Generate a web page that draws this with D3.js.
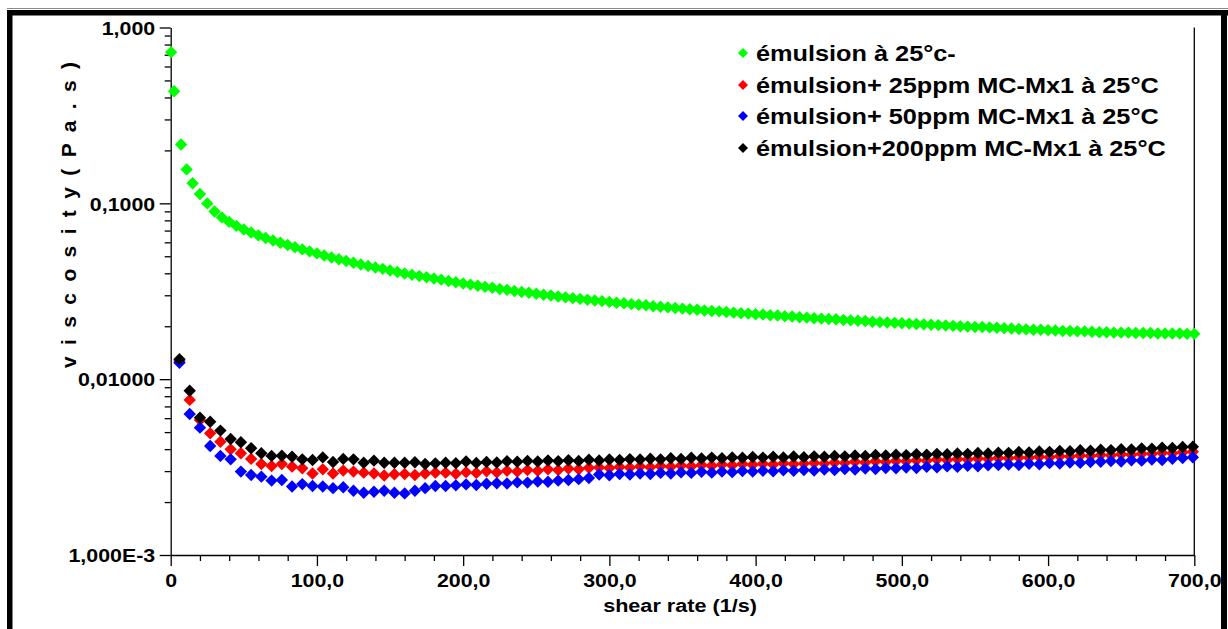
<!DOCTYPE html>
<html>
<head>
<meta charset="utf-8">
<script src="https://cdn.jsdelivr.net/npm/d3@7"></script>
<style>
  html, body { margin: 0; padding: 0; background: #ffffff; }
  svg { display: block; }
  text { font-family: "Liberation Sans", Arial, sans-serif; font-weight: bold; fill: #000; }
</style>
</head>
<body>
<svg id="chart" width="1228" height="629"></svg>
<script>
// ---- data -------------------------------------------------------------
const seriesNames = [
  "émulsion à 25°c-",
  "émulsion+ 25ppm MC-Mx1 à 25°C",
  "émulsion+ 50ppm MC-Mx1 à 25°C",
  "émulsion+200ppm MC-Mx1 à 25°C"
];
const seriesColors = ["#00ff00", "#ff0000", "#0000ff", "#000000"];

// plain emulsion: shear rate (1/s) and viscosity (Pa.s)
const emulsionRate = [0.3, 2.3, 7.1, 10.9, 15, 20, 25, 30, 35, 40, 45,
  50, 55, 60, 65, 70, 75, 80, 85, 90, 95, 100, 105, 110, 115, 120, 125, 130, 135, 140, 145,
  150, 155, 160, 165, 170, 175, 180, 185, 190, 195, 200, 205, 210, 215, 220, 225, 230, 235, 240, 245,
  250, 255, 260, 265, 270, 275, 280, 285, 290, 295, 300, 305, 310, 315, 320, 325, 330, 335, 340, 345,
  350, 355, 360, 365, 370, 375, 380, 385, 390, 395, 400, 405, 410, 415, 420, 425, 430, 435, 440, 445,
  450, 455, 460, 465, 470, 475, 480, 485, 490, 495, 500, 505, 510, 515, 520, 525, 530, 535, 540, 545,
  550, 555, 560, 565, 570, 575, 580, 585, 590, 595, 600, 605, 610, 615, 620, 625, 630, 635, 640, 645,
  650, 655, 660, 665, 670, 675, 680, 685, 690, 695, 700];
const emulsionVisc = [0.724, 0.434, 0.216, 0.156, 0.130, 0.1131, 0.0999, 0.0899, 0.0832, 0.0784, 0.0744,
  0.0710, 0.0682, 0.0657, 0.0635, 0.0615, 0.0597, 0.0580, 0.0563, 0.0547, 0.0533, 0.0519, 0.0505, 0.0492, 0.0481, 0.0470, 0.0459, 0.0449, 0.0440, 0.0432, 0.0424,
  0.0415, 0.0407, 0.0399, 0.0392, 0.0386, 0.0380, 0.0374, 0.0368, 0.0362, 0.0356, 0.0350, 0.0345, 0.0340, 0.0335, 0.0331, 0.0326, 0.0322, 0.0317, 0.0313, 0.0310,
  0.0306, 0.0302, 0.0299, 0.0295, 0.0292, 0.0289, 0.0286, 0.0283, 0.0280, 0.0278, 0.0275, 0.0272, 0.0270, 0.0267, 0.0265, 0.0263, 0.0260, 0.0258, 0.0256, 0.0254,
  0.0252, 0.0250, 0.0248, 0.0246, 0.0244, 0.0243, 0.0241, 0.0239, 0.0237, 0.0236, 0.0234, 0.0233, 0.0231, 0.0230, 0.0228, 0.0227, 0.0225, 0.0224, 0.0222, 0.0221,
  0.0220, 0.0219, 0.0217, 0.0216, 0.0215, 0.0214, 0.0212, 0.0211, 0.0210, 0.0209, 0.0208, 0.0207, 0.0206, 0.0205, 0.0204, 0.0203, 0.0202, 0.0201, 0.0200, 0.0199,
  0.0198, 0.0198, 0.0197, 0.0196, 0.0195, 0.0194, 0.0193, 0.0192, 0.0191, 0.0191, 0.0190, 0.0189, 0.0188, 0.0188, 0.0187, 0.0187, 0.0186, 0.0185, 0.0185, 0.0184,
  0.0184, 0.0184, 0.0183, 0.0183, 0.0183, 0.0182, 0.0182, 0.0182, 0.0182, 0.0181, 0.0181];

// emulsions with MC-Mx1: shared shear-rate grid (1/s)
const mxRate = [6, 13, 20, 27, 34, 41, 48, 55, 62, 69, 76, 83, 90, 97, 104, 111, 118, 125, 132, 139,
  146, 153, 160, 167, 174, 181, 188, 195, 202, 209, 216, 223, 230, 237, 244, 251, 258, 265, 272, 279,
  286, 293, 300, 307, 314, 321, 328, 335, 342, 349, 356, 363, 370, 377, 384, 391, 398, 405, 412, 419,
  426, 433, 440, 447, 454, 461, 468, 475, 482, 489, 496, 503, 510, 517, 524, 531, 538, 545, 552, 559,
  566, 573, 580, 587, 594, 601, 608, 615, 622, 629, 636, 643, 650, 657, 664, 671, 678, 685, 692, 699];

const mx25Visc = [0.0127, 0.00762, 0.00586, 0.00492, 0.00441, 0.00399, 0.00379, 0.00352, 0.00329, 0.00321,
  0.00329, 0.00318, 0.00311, 0.00291, 0.00307, 0.00291, 0.00302, 0.00298, 0.00294, 0.00291,
  0.00283, 0.00288, 0.00289, 0.00285, 0.00291, 0.00294, 0.00294, 0.00290, 0.00296, 0.00293,
  0.00299, 0.00295, 0.00301, 0.00298, 0.00304, 0.00301, 0.00307, 0.00304, 0.00310, 0.00307,
  0.00313, 0.00315, 0.00312, 0.00317, 0.00314, 0.00319, 0.00316, 0.00321, 0.00318, 0.00323,
  0.00320, 0.00325, 0.00322, 0.00327, 0.00324, 0.00329, 0.00326, 0.00330, 0.00327, 0.00332,
  0.00329, 0.00331, 0.00334, 0.00331, 0.00336, 0.00334, 0.00339, 0.00336, 0.00341, 0.00338,
  0.00343, 0.00341, 0.00346, 0.00344, 0.00349, 0.00347, 0.00351, 0.00349, 0.00354, 0.00352,
  0.00356, 0.00355, 0.00359, 0.00357, 0.00362, 0.00360, 0.00365, 0.00363, 0.00368, 0.00366,
  0.00371, 0.00369, 0.00374, 0.00372, 0.00377, 0.00376, 0.00381, 0.00379, 0.00384, 0.00387];

const mx50Visc = [0.0124, 0.00634, 0.00530, 0.00417, 0.00366, 0.00350, 0.00298, 0.00285, 0.00279, 0.00265,
  0.00267, 0.00245, 0.00253, 0.00247, 0.00245, 0.00240, 0.00243, 0.00232, 0.00226, 0.00229,
  0.00232, 0.00226, 0.00224, 0.00232, 0.00240, 0.00247, 0.00247, 0.00249, 0.00252, 0.00250,
  0.00254, 0.00256, 0.00255, 0.00259, 0.00258, 0.00262, 0.00261, 0.00265, 0.00267, 0.00270,
  0.00274, 0.00287, 0.00284, 0.00289, 0.00287, 0.00291, 0.00289, 0.00293, 0.00291, 0.00295,
  0.00293, 0.00297, 0.00294, 0.00298, 0.00296, 0.00300, 0.00298, 0.00301, 0.00299, 0.00303,
  0.00301, 0.00304, 0.00302, 0.00306, 0.00304, 0.00308, 0.00306, 0.00310, 0.00308, 0.00312,
  0.00311, 0.00314, 0.00312, 0.00317, 0.00315, 0.00319, 0.00317, 0.00322, 0.00320, 0.00324,
  0.00325, 0.00327, 0.00325, 0.00330, 0.00328, 0.00333, 0.00331, 0.00336, 0.00334, 0.00338,
  0.00339, 0.00342, 0.00340, 0.00346, 0.00344, 0.00349, 0.00347, 0.00353, 0.00356, 0.00360];

const mx200Visc = [0.0130, 0.00860, 0.00604, 0.00573, 0.00510, 0.00457, 0.00438, 0.00405, 0.00379, 0.00366,
  0.00367, 0.00362, 0.00350, 0.00347, 0.00359, 0.00338, 0.00352, 0.00350, 0.00335, 0.00344,
  0.00335, 0.00335, 0.00335, 0.00337, 0.00329, 0.00332, 0.00335, 0.00333, 0.00340, 0.00334,
  0.00338, 0.00336, 0.00341, 0.00339, 0.00343, 0.00340, 0.00345, 0.00342, 0.00346, 0.00343,
  0.00348, 0.00345, 0.00349, 0.00347, 0.00351, 0.00349, 0.00353, 0.00350, 0.00355, 0.00352,
  0.00357, 0.00354, 0.00358, 0.00355, 0.00359, 0.00357, 0.00361, 0.00358, 0.00362, 0.00359,
  0.00363, 0.00360, 0.00364, 0.00362, 0.00366, 0.00364, 0.00368, 0.00366, 0.00371, 0.00368,
  0.00372, 0.00370, 0.00374, 0.00372, 0.00376, 0.00374, 0.00378, 0.00376, 0.00380, 0.00378,
  0.00382, 0.00381, 0.00385, 0.00383, 0.00388, 0.00386, 0.00391, 0.00389, 0.00394, 0.00392,
  0.00397, 0.00395, 0.00400, 0.00398, 0.00404, 0.00402, 0.00408, 0.00406, 0.00411, 0.00413];

// axis ticks
const xTickValues = [0, 100, 200, 300, 400, 500, 600, 700];
const xTickLabels = ["0", "100,0", "200,0", "300,0", "400,0", "500,0", "600,0", "700,0"];
const yTickValues = [1, 0.1, 0.01, 0.001];
const yTickLabels = ["1,000", "0,1000", "0,01000", "1,000E-3"];
const xTitle = "shear rate (1/s)";
const yTitle = "v i s c o s i t y   ( P a . s )";

// ---- drawing -----------------------------------------------------------
const svg = d3.select("#chart");
const W = 1228, H = 629;
const plot = { left: 170.7, right: 1194.3, top: 27.5, bottom: 555 };
const stretch = "scale(1.15,1)";   // wide bold lettering of the instrument software

const x = d3.scaleLinear().domain([0, 700]).range([plot.left, plot.right]);
const y = d3.scaleLog().domain([0.001, 1]).range([plot.bottom, plot.top]);

// page frame
svg.append("rect").attr("x", 0).attr("y", 0).attr("width", W).attr("height", H).attr("fill", "#fff");
svg.append("line").attr("x1", 7).attr("x2", W).attr("y1", 8.5).attr("y2", 8.5)
  .attr("stroke", "#8a8a8a").attr("stroke-width", 1.2);
svg.append("rect").attr("x", 7).attr("y", 10).attr("width", W - 7).attr("height", 5.5).attr("fill", "#000");
svg.append("rect").attr("x", 7).attr("y", 10).attr("width", 5.5).attr("height", H - 10).attr("fill", "#000");
svg.append("rect").attr("x", 1221).attr("y", 10).attr("width", 6).attr("height", H - 10).attr("fill", "#000");

// minor tick positions
const xMinor = d3.range(0, 701, 20).filter(v => v % 100 !== 0);
const yMinor = [];
[0.001, 0.01, 0.1].forEach(d => { for (let k = 2; k <= 9; k++) yMinor.push(d * k); });

// x axis
const gx = svg.append("g").attr("transform", `translate(0,${plot.bottom})`);
gx.append("g").call(d3.axisBottom(x).tickValues(xMinor).tickSize(6).tickSizeOuter(0).tickFormat(""))
  .call(g => g.select(".domain").remove());
gx.append("g").call(d3.axisBottom(x).tickValues(xTickValues).tickSize(11).tickSizeOuter(0)
    .tickFormat((d, i) => xTickLabels[i]))
  .call(g => g.selectAll("text")
    .attr("y", 0).attr("dy", 0)
    .attr("transform", `translate(0,32) ${stretch}`)
    .style("font-size", "18.6px"));
gx.selectAll("line, path").attr("stroke", "#000").attr("stroke-width", 1.3);

// y axis
const gy = svg.append("g").attr("transform", `translate(${plot.left},0)`);
gy.append("g").call(d3.axisLeft(y).tickValues(yMinor).tickSize(6).tickSizeOuter(0).tickFormat(""))
  .call(g => g.select(".domain").remove());
gy.append("g").call(d3.axisLeft(y).tickValues(yTickValues).tickSize(11).tickSizeOuter(0)
    .tickFormat((d, i) => yTickLabels[i]))
  .call(g => g.selectAll("text")
    .attr("x", 0).attr("dy", "0.36em")
    .attr("transform", `translate(-15.5,0) ${stretch}`)
    .style("font-size", "18.6px"));
gy.selectAll("line, path").attr("stroke", "#000").attr("stroke-width", 1.3);

// right border of the plot
svg.append("line").attr("x1", plot.right).attr("x2", plot.right)
  .attr("y1", plot.top).attr("y2", plot.bottom).attr("stroke", "#000").attr("stroke-width", 1.3);

// axis titles
svg.append("text")
  .attr("transform", `translate(680,612) ${stretch}`)
  .attr("text-anchor", "middle").style("font-size", "18.8px").text(xTitle);
svg.append("text")
  .attr("transform", "translate(69,215) rotate(-90)")
  .attr("text-anchor", "middle").attr("dy", "0.35em")
  .attr("textLength", 306).attr("lengthAdjust", "spacing")
  .style("font-size", "21px").text(yTitle);

// data markers
const diamond = r => `M0,${-r}L${r},0L0,${r}L${-r},0Z`;
const series = [
  { rate: emulsionRate, visc: emulsionVisc },
  { rate: mxRate, visc: mx25Visc },
  { rate: mxRate, visc: mx50Visc },
  { rate: mxRate, visc: mx200Visc }
];
series.forEach((s, si) => {
  svg.append("g").selectAll("path")
    .data(s.rate.map((r, i) => [r, s.visc[i]]))
    .join("path")
    .attr("d", diamond(6.2))
    .attr("transform", d => `translate(${x(d[0])},${y(d[1])})`)
    .attr("fill", seriesColors[si]);
});

// legend
const legendRows = [53, 85, 116, 148];
const legend = svg.append("g");
seriesNames.forEach((name, i) => {
  const row = legend.append("g").attr("transform", `translate(743,${legendRows[i]})`);
  row.append("path").attr("d", diamond(5)).attr("fill", seriesColors[i]);
  row.append("text").attr("transform", `translate(13,7.5) ${stretch}`)
    .style("font-size", "22px").text(name);
});
</script>
</body>
</html>
